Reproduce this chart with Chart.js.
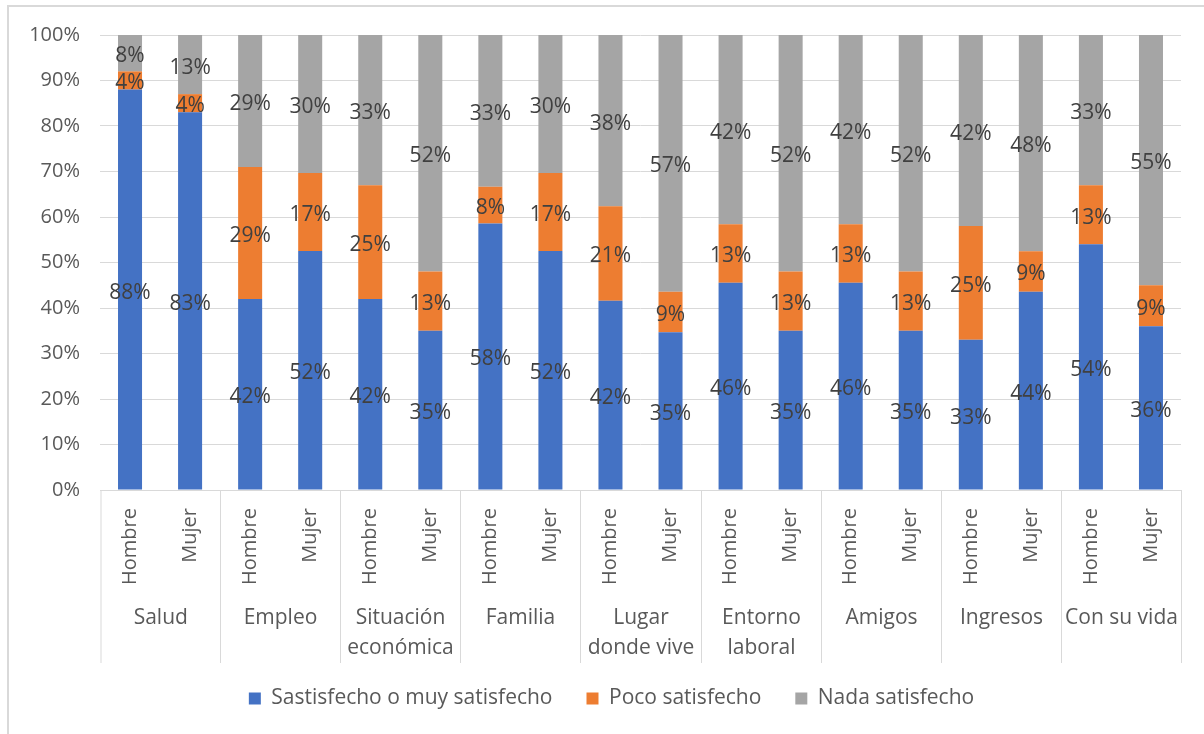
<!DOCTYPE html>
<html>
<head>
<meta charset="utf-8">
<script src="https://cdn.jsdelivr.net/npm/chart.js@4.4.1/dist/chart.umd.min.js"></script>
<style>
  html, body { margin: 0; padding: 0; background: #ffffff; }
  #wrap { position: relative; width: 1204px; height: 734px; }
</style>
</head>
<body>
<div id="wrap"><canvas id="chart" width="1204" height="734"></canvas></div>
<script>
// Outer categories (multi-line where the label wraps) and the two bars in each
const groups = [
  ['Salud'], ['Empleo'], ['Situación', 'económica'], ['Familia'],
  ['Lugar', 'donde vive'], ['Entorno', 'laboral'], ['Amigos'], ['Ingresos'], ['Con su vida']
];
const genders = ['Hombre', 'Mujer'];

// Legend names of the three stacked series
const seriesNames = ['Sastisfecho o muy satisfecho', 'Poco satisfecho', 'Nada satisfecho'];

// Percentages per bar, in order: Salud-Hombre, Salud-Mujer, Empleo-Hombre, ...
const satisfecho = [88, 83, 42, 52, 42, 35, 58, 52, 42, 35, 46, 35, 46, 35, 33, 44, 54, 36];
const poco       = [ 4,  4, 29, 17, 25, 13,  8, 17, 21,  9, 13, 13, 13, 13, 25,  9, 13,  9];
const nada       = [ 8, 13, 29, 30, 33, 52, 33, 30, 38, 57, 42, 52, 42, 52, 42, 48, 33, 55];

// Value axis ticks
const yTicks = [0, 10, 20, 30, 40, 50, 60, 70, 80, 90, 100];

const seriesColors = ['#4472C4', '#ED7D31', '#A5A5A5'];
const FONT = '"Open Sans", "Noto Sans", sans-serif';

const barLabels = [];
groups.forEach(() => genders.forEach(g => barLabels.push(g)));

// 100% stacked: each bar is scaled to its own total
const raw = [satisfecho, poco, nada];
const totals = satisfecho.map((_, i) => raw.reduce((s, arr) => s + arr[i], 0));

const datasets = raw.map((arr, k) => ({
  label: seriesNames[k],
  data: arr.map((v, i) => v / totals[i] * 100),
  shown: arr,
  backgroundColor: seriesColors[k],
  borderWidth: 0,
  barPercentage: 0.4,
  categoryPercentage: 1.0
}));

// Frame lines around the chart
const frame = {
  id: 'frame',
  beforeDraw(chart) {
    const ctx = chart.ctx;
    ctx.save();
    ctx.strokeStyle = '#d9d9d9';
    ctx.lineWidth = 2;
    ctx.beginPath();
    ctx.moveTo(8, 740);
    ctx.lineTo(8, 6);
    ctx.lineTo(1210, 6);
    ctx.stroke();
    ctx.restore();
  }
};

// The frame extends past the right edge, so the legend sits centred on the frame
const legendShift = {
  id: 'legendShift',
  afterLayout(chart) {
    if (chart.legend) {
      chart.legend.left += 16;
      chart.legend.right += 16;
    }
  }
};

// Percentage text in the middle of each segment
const segmentLabels = {
  id: 'segmentLabels',
  afterDatasetsDraw(chart) {
    const ctx = chart.ctx;
    ctx.save();
    ctx.font = '21px ' + FONT;
    ctx.fillStyle = '#404040';
    ctx.textAlign = 'center';
    ctx.textBaseline = 'middle';
    chart.data.datasets.forEach((ds, di) => {
      const meta = chart.getDatasetMeta(di);
      meta.data.forEach((bar, i) => {
        const p = bar.getProps(['x', 'y', 'base'], true);
        ctx.fillText(ds.shown[i] + '%', p.x, (p.y + p.base) / 2 + 3);
      });
    });
    ctx.restore();
  }
};

// Second level of the category axis: group separators and group names
const groupAxis = {
  id: 'groupAxis',
  afterDraw(chart) {
    const xs = chart.scales.x;
    const area = chart.chartArea;
    const ctx = chart.ctx;
    const edges = [area.left + 1];
    for (let g = 1; g < groups.length; g++) {
      edges.push(Math.round((xs.getPixelForValue(2 * g - 1) + xs.getPixelForValue(2 * g)) / 2) + 0.5);
    }
    edges.push(area.right + 0.5);
    ctx.save();
    ctx.strokeStyle = '#d9d9d9';
    ctx.lineWidth = 1;
    ctx.beginPath();
    edges.forEach(x => {
      ctx.moveTo(x, xs.top);
      ctx.lineTo(x, xs.top + 173);
    });
    ctx.stroke();
    ctx.font = '21px ' + FONT;
    ctx.fillStyle = '#595959';
    ctx.textAlign = 'center';
    ctx.textBaseline = 'middle';
    groups.forEach((lines, g) => {
      const cx = (edges[g] + edges[g + 1]) / 2;
      lines.forEach((t, k) => ctx.fillText(t, cx, xs.top + 128 + k * 30));
    });
    ctx.restore();
  }
};

new Chart(document.getElementById('chart'), {
  type: 'bar',
  data: { labels: barLabels, datasets },
  plugins: [frame, legendShift, segmentLabels, groupAxis],
  options: {
    responsive: false,
    animation: false,
    layout: { padding: { left: 10, right: 23, top: 35, bottom: 15 } },
    scales: {
      x: {
        stacked: true,
        grid: { display: false },
        border: { display: true, color: '#d9d9d9', width: 1 },
        ticks: {
          minRotation: 90, maxRotation: 90, autoSkip: false, padding: 10,
          color: '#595959', font: { size: 20, family: FONT }
        },
        afterFit(scale) { scale.height = 164; }
      },
      y: {
        stacked: true,
        min: 0, max: 100,
        afterBuildTicks(scale) { scale.ticks = yTicks.map(v => ({ value: v })); },
        grid: { color: '#d9d9d9', drawTicks: false },
        border: { display: false },
        ticks: {
          padding: 20, color: '#595959', font: { size: 20, family: FONT },
          callback: v => v + '%'
        },
        afterFit(scale) { scale.width = 90; }
      }
    },
    plugins: {
      legend: {
        position: 'bottom',
        labels: {
          boxWidth: 12, boxHeight: 12, padding: 34,
          color: '#595959', font: { size: 21, family: FONT }
        }
      },
      tooltip: { enabled: false }
    }
  }
});
</script>
</body>
</html>
